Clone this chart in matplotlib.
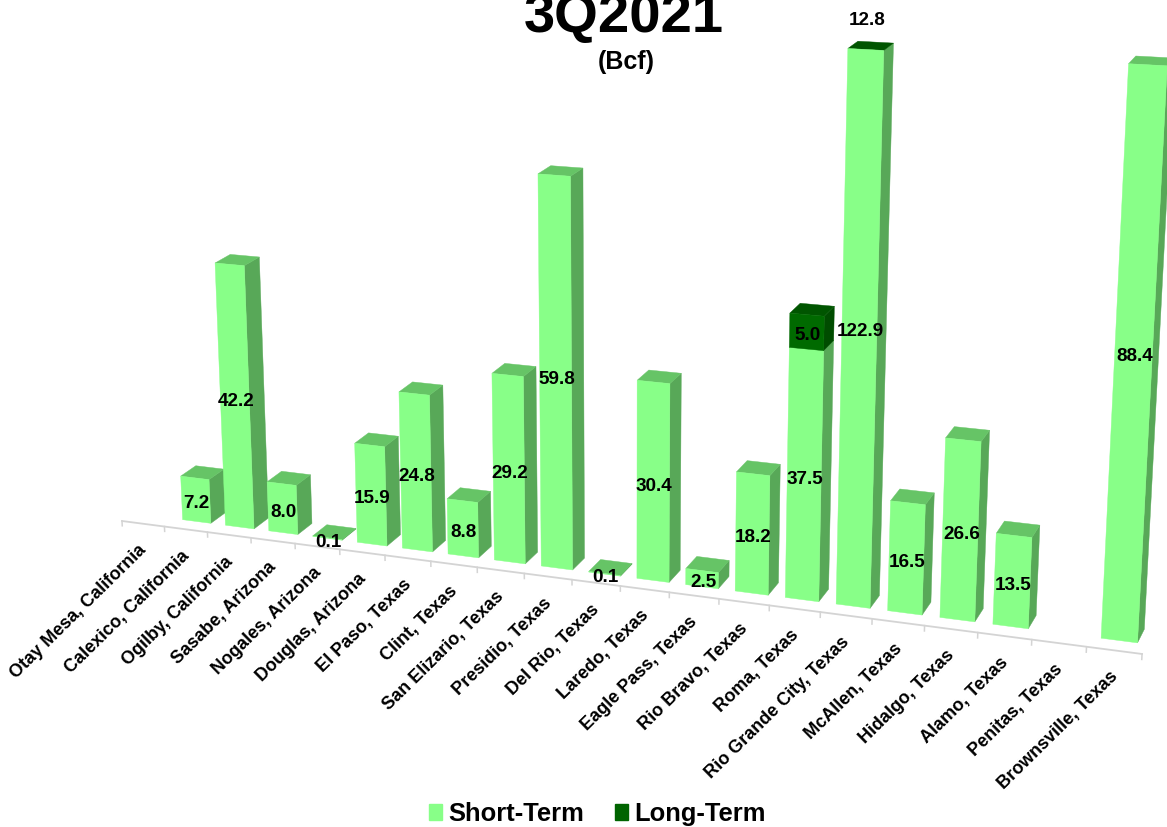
import numpy as np
import matplotlib
matplotlib.use("Agg")
import matplotlib.pyplot as plt
from matplotlib.patches import Polygon, Patch

plt.rcParams['font.family'] = ['Liberation Sans', 'DejaVu Sans']

categories = ["Otay Mesa, California", "Calexico, California", "Ogilby, California",
              "Sasabe, Arizona", "Nogales, Arizona", "Douglas, Arizona", "El Paso, Texas",
              "Clint, Texas", "San Elizario, Texas", "Presidio, Texas", "Del Rio, Texas",
              "Laredo, Texas", "Eagle Pass, Texas", "Rio Bravo, Texas", "Roma, Texas",
              "Rio Grande City, Texas", "McAllen, Texas", "Hidalgo, Texas", "Alamo, Texas",
              "Penitas, Texas", "Brownsville, Texas"]
short_term = [None, 7.2, 42.2, 8.0, 0.1, 15.9, 24.8, 8.8, 29.2, 59.8, 0.1, 30.4, 2.5, 18.2,
              37.5, 122.9, 16.5, 26.6, 13.5, None, 88.4]
long_term = [None, None, None, None, None, None, None, None, None, None, None, None, None, None,
             5.0, 12.8, None, None, None, None, None]
title = "3Q2021"
subtitle = "(Bcf)"
AXIS_MAX = 80.4

# camera: (slot t, value v, depth d) -> pixel
O = np.array([122.0, 521.0])
VT = np.array([-6605.0, -356.0]); A_T = -0.00627
VV = np.array([625.0, 10600.0]);  A_V = -0.000597
VD = np.array([1768.0, -616.0]);  A_D = 0.0091

def project(t, v, d):
    w = 1 + A_T * t + A_V * v + A_D * d
    p = O + A_T * t * VT + A_V * v * VV + A_D * d * VD
    return p / w

FRONT, BACK = 0.75, 1.80
L, R = 0.17, 0.83
C_S = ("#88FF88", "#58A858", "#66C466")
C_L = ("#006A00", "#004C00", "#005500")

fig = plt.figure(figsize=(11.67, 8.27), dpi=100, facecolor="white")
ax = fig.add_axes([0, 0, 1, 1])
ax.set_xlim(0, 1167)
ax.set_ylim(827, 0)
ax.axis("off")

def box(i, v0, v1, cols, z):
    t0, t1 = i + L, i + R
    front = [project(t0, v0, FRONT), project(t1, v0, FRONT), project(t1, v1, FRONT), project(t0, v1, FRONT)]
    side = [project(t1, v0, FRONT), project(t1, v0, BACK), project(t1, v1, BACK), project(t1, v1, FRONT)]
    top = [project(t0, v1, FRONT), project(t1, v1, FRONT), project(t1, v1, BACK), project(t0, v1, BACK)]
    for pts, c in ((side, cols[1]), (top, cols[2]), (front, cols[0])):
        ax.add_patch(Polygon(pts, closed=True, facecolor=c, edgecolor=c, linewidth=0.3, zorder=z))

def value_label(x, y, value):
    ax.text(x + 1, y + 4, f"{value:.1f}", ha="center", va="center", fontsize=13.6,
            fontweight="bold", color="black", zorder=50)

# floor axis and ticks
n = len(categories)
p0, p1 = project(0, 0, 0), project(n, 0, 0)
ax.plot([p0[0], p1[0]], [p0[1], p1[1]], color="#D4D4D4", lw=1.3, zorder=1)
for t in range(n + 1):
    a, b = project(t, 0, 0), project(t, -0.8, 0)
    ax.plot([a[0], b[0]], [a[1], b[1]], color="#D4D4D4", lw=1.1, zorder=1)

# bars, left to right
for i, (s, l) in enumerate(zip(short_term, long_term)):
    z = 2 + i
    base = 0.0
    if s is not None:
        clipped = s >= AXIS_MAX
        top_s = min(s, AXIS_MAX)
        if l is not None and clipped:
            box(i, 0, top_s, (C_S[0], C_S[1], C_L[2]), z)
        else:
            box(i, 0, top_s, C_S, z)
        base = top_s
        lx, ly = project(i + 0.5, top_s / 2 + (1.2 if clipped else 0), FRONT)
        value_label(lx, ly, s)
    if l is not None:
        if base + l <= AXIS_MAX:
            box(i, base, base + l, C_L, z)
            lx, ly = project(i + 0.5, base + l / 2, FRONT)
        else:
            lx, ly = project(i + 0.5, AXIS_MAX + 4.5, FRONT)
        value_label(lx, ly, l)

# category labels
for i, c in enumerate(categories):
    x, y = project(i + 0.5, 0, 0)
    ax.text(x + 1, y + 24, c, rotation=44.5, ha="right", va="center", rotation_mode="anchor",
            fontsize=13, fontweight="bold", color="black", zorder=60)

ax.text(624, 32, title, ha="center", va="baseline", fontsize=40.5, fontweight="bold", color="black")
ax.text(626, 62, subtitle, ha="center", va="center", fontsize=18, fontweight="bold", color="black")

handles = [Patch(facecolor=C_S[0], edgecolor=C_S[0], label="Short-Term"),
           Patch(facecolor="#006400", edgecolor="#006400", label="Long-Term")]
fig.legend(handles=handles, loc="center", bbox_to_anchor=(597.5 / 1167, 1 - 814 / 827), ncol=2,
           frameon=False, prop={"size": 18.4, "weight": "bold"}, handlelength=0.5, handleheight=0.56,
           handletextpad=0.26, columnspacing=1.2, borderpad=0)

fig.savefig("out.png", dpi=100, facecolor="white")
